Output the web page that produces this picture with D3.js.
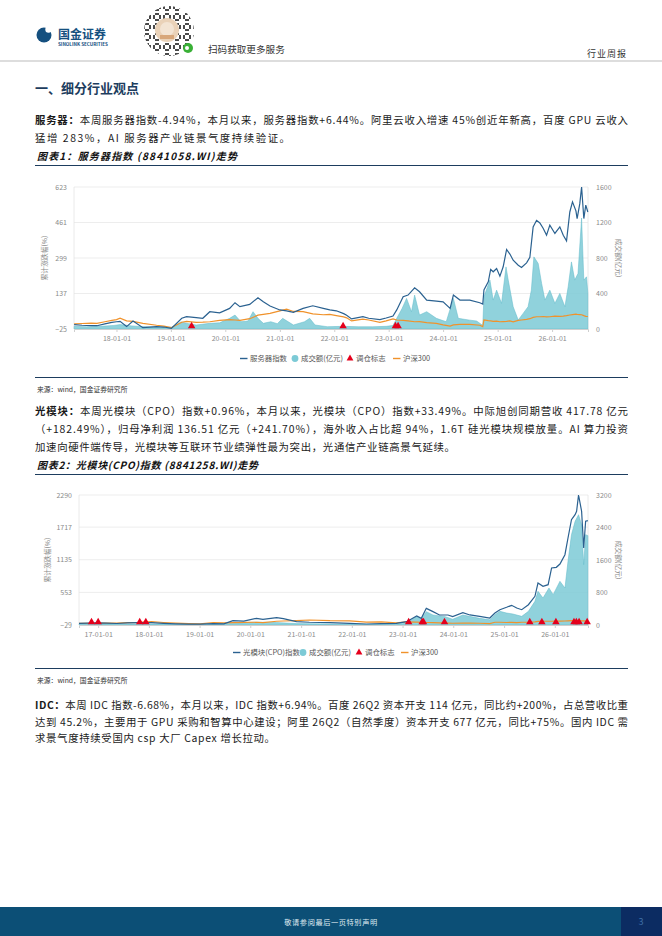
<!DOCTYPE html>
<html>
<head>
<meta charset="utf-8">
<style>
  html, body { margin: 0; padding: 0; background: #fff; }
  svg { display: block; }
  text { font-family: "Noto Sans CJK SC", "Noto Sans", sans-serif; }
</style>
</head>
<body>
<svg id="page" width="662" height="936"></svg>
<script src="https://d3js.org/d3.v7.min.js"></script>
<script>
// ---- 图表1: 服务器指数 (8841058.WI) ----
const srvDates = [
  '2017-03-23','2017-05-15','2017-07-15','2017-08-23','2017-10-15','2017-12-01','2018-01-01','2018-01-25','2018-03-10','2018-04-22',
  '2018-06-27','2018-09-27','2018-11-15','2019-01-04','2019-03-15','2019-04-16','2019-06-20','2019-08-03','2019-09-19','2019-11-24',
  '2020-01-30','2020-03-06','2020-04-08','2020-06-13','2020-08-07','2020-09-12','2020-10-27','2021-01-01','2021-02-15','2021-04-02',
  '2021-06-06','2021-08-10','2021-10-19','2021-12-02','2022-01-15','2022-03-05','2022-03-25','2022-04-27','2022-07-12','2022-08-20',
  '2022-11-03','2022-12-15','2023-01-30','2023-02-24','2023-04-08','2023-05-11','2023-06-24','2023-07-27','2023-09-13','2023-11-17',
  '2024-01-01','2024-02-17','2024-03-10','2024-04-23','2024-06-28','2024-09-03','2024-09-23','2024-10-01','2024-10-30','2024-11-15',
  '2024-12-02','2024-12-25','2025-01-16','2025-02-07','2025-03-02','2025-03-24','2025-04-15','2025-05-19','2025-06-10','2025-07-14',
  '2025-08-05','2025-08-27','2025-09-19','2025-10-11','2025-11-03','2025-11-25','2025-12-17','2026-01-20','2026-02-22','2026-03-17',
  '2026-04-08','2026-04-30','2026-05-18','2026-06-10','2026-06-18','2026-07-06','2026-07-18','2026-08-02','2026-08-15','2026-08-29'
];
const srvIndex = [
  -5, -8, -10, -10, -2, 5, 8, 10, -14, 11,
  -19, -14, -16, -22, 24, 31, 27, 24, 54, 49,
  69, 95, 77, 87, 118, 99, 80, 62, 58, 51,
  69, 81, 69, 62, 58, 45, 38, 21, 31, 24,
  18, 25, 34, 62, 122, 130, 163, 145, 107, 102,
  99, 69, 130, 107, 107, 95, 89, 153, 190, 247,
  236, 251, 216, 259, 338, 317, 289, 266, 256, 277,
  302, 441, 471, 459, 434, 403, 449, 411, 441, 403,
  377, 509, 555, 514, 479, 547, 623, 479, 540, 509
];
const srvHs300 = [
  -2, 0, 2, 1, 8, 14, 18, 24, 12, 10,
  1, -8, -12, -19, 6, 10, 5, 6, 8, 14,
  18, 16, 14, 22, 38, 42, 46, 58, 66, 55,
  54, 44, 40, 42, 36, 30, 26, 12, 20, 16,
  5, 12, 21, 16, 14, 12, 8, 9, 4, 1,
  -6, -12, -6, -4, -4, -8, -14, 16, 13, 12,
  10, 11, 8, 9, 10, 12, 8, 14, 16, 19,
  22, 28, 31, 31, 32, 30, 31, 34, 33, 34,
  36, 39, 41, 43, 42, 41, 40, 36, 33, 32
];
const srvVolDates = [
  '2017-03-23','2017-06-15','2017-09-15','2017-12-15','2018-01-25','2018-04-15','2018-07-15','2018-10-15','2019-01-04','2019-03-10',
  '2019-05-01','2019-06-20','2019-09-19','2019-11-24','2020-01-30','2020-03-06','2020-04-15','2020-06-01','2020-07-05','2020-08-07',
  '2020-09-12','2020-11-01','2020-12-15','2021-01-20','2021-04-02','2021-06-15','2021-07-20','2021-08-25','2021-11-15','2022-03-05',
  '2022-06-15','2022-09-15','2022-12-15','2023-01-30','2023-02-24','2023-04-01','2023-05-01','2023-06-03','2023-06-24','2023-07-27',
  '2023-09-13','2023-11-17','2024-01-22','2024-03-10','2024-04-12','2024-06-28','2024-08-13','2024-09-23','2024-10-01','2024-11-10',
  '2024-12-02','2024-12-25','2025-01-27','2025-02-26','2025-03-13','2025-04-15','2025-05-19','2025-06-21','2025-07-24','2025-08-15',
  '2025-09-01','2025-09-30','2025-10-23','2025-11-14','2025-12-17','2026-01-20','2026-02-22','2026-03-28','2026-04-19','2026-05-11',
  '2026-06-02','2026-06-24','2026-07-18','2026-08-02','2026-08-20','2026-08-29'
];
const srvVolume = [
  30, 25, 30, 40, 50, 35, 25, 20, 20, 80,
  60, 45, 64, 70, 120, 157, 82, 90, 195, 120,
  64, 82, 60, 120, 45, 82, 120, 45, 26, 30,
  25, 25, 30, 40, 120, 232, 345, 195, 382, 157,
  195, 120, 82, 345, 120, 100, 90, 40, 363, 551,
  326, 438, 289, 700, 551, 251, 101, 176, 251, 438,
  813, 738, 513, 326, 438, 289, 401, 251, 476, 756,
  551, 626, 1250, 551, 588, 404
];
const srvMarks = ['2019-05-20', '2022-03-01', '2023-02-15', '2023-03-05'];
const srvLeftTicks = [-25, 137, 299, 461, 623];
const srvRightTicks = [0, 400, 800, 1200, 1600];
const srvYears = ['2018-01-01','2019-01-01','2020-01-01','2021-01-01','2022-01-01','2023-01-01','2024-01-01','2025-01-01','2026-01-01'];

// ---- 图表2: 光模块(CPO)指数 (8841258.WI) ----
const cpoDates = [
  '2016-08-16','2016-10-15','2016-12-20','2017-03-01','2017-05-15','2017-08-01','2017-10-20','2018-01-20','2018-04-15','2018-07-15',
  '2018-10-15','2019-01-05','2019-04-10','2019-06-25','2019-08-29','2019-11-15','2020-02-14','2020-04-01','2020-07-09','2020-08-26',
  '2020-11-28','2021-03-01','2021-07-28','2021-12-17','2022-04-16','2022-08-01','2022-11-17','2023-01-30','2023-04-13','2023-05-16',
  '2023-06-21','2023-08-08','2023-09-24','2023-11-24','2023-12-28','2024-03-10','2024-04-30','2024-07-09','2024-09-20','2024-10-27',
  '2024-12-02','2025-01-19','2025-02-24','2025-04-02','2025-05-08','2025-06-25','2025-08-11','2025-09-02','2025-10-08','2025-11-14',
  '2025-12-09','2026-01-12','2026-02-07','2026-03-15','2026-04-06','2026-05-01','2026-05-27','2026-06-07','2026-06-21','2026-07-13',
  '2026-07-28','2026-08-11','2026-08-27'
];
const cpoIndex = [
  0, 6, 10, 4, -2, 8, 14, 12, 0, -8,
  -12, -15, -6, -10, 48, 40, 90, 72, 102, 84,
  30, 20, 13, 1, -11, -4, 1, 30, 132, 90,
  268, 209, 149, 149, 120, 191, 150, 126, 96, 185,
  244, 287, 322, 274, 244, 333, 483, 720, 661, 690,
  988, 1000, 1059, 1225, 1523, 1850, 1939, 2000, 2290, 2000,
  1345, 1821, 1832
];
const cpoHs300 = [
  0, 2, 3, 5, 4, 12, 18, 30, 16, 6,
  -3, -8, 16, 10, 12, 17, 20, 14, 38, 42,
  50, 60, 48, 46, 22, 26, 10, 26, 22, 18,
  16, 14, 10, 6, 2, 4, 6, 2, -4, 20,
  20, 16, 18, 14, 20, 22, 28, 34, 38, 38,
  38, 42, 40, 42, 45, 48, 50, 50, 48, 46,
  44, 40, 40
];
const cpoVolDates = [
  '2016-08-16','2017-01-15','2017-06-15','2017-11-15','2018-06-15','2019-01-05','2019-08-29','2020-02-14','2020-07-09','2020-11-28',
  '2021-07-28','2022-04-16','2022-11-17','2023-01-30','2023-04-13','2023-05-16','2023-06-21','2023-08-08','2023-11-05','2023-12-28',
  '2024-03-10','2024-07-09','2024-09-20','2024-10-27','2024-12-02','2025-01-19','2025-03-05','2025-05-08','2025-06-25','2025-08-11',
  '2025-09-02','2025-10-08','2025-11-20','2025-12-20','2026-02-07','2026-03-15','2026-04-06','2026-05-01','2026-05-27','2026-06-21',
  '2026-07-13','2026-07-28','2026-08-11','2026-08-27'
];
const cpoVolume = [
  15, 25, 20, 30, 18, 15, 45, 70, 60, 35,
  25, 15, 20, 57, 205, 150, 328, 246, 205, 140,
  246, 164, 130, 254, 336, 295, 271, 213, 336, 583,
  829, 664, 911, 747, 1075, 911, 1567, 2223, 2551, 2715,
  2469, 1485, 2223, 2200
];
const cpoMarks = ['2016-11-14','2017-01-01','2017-10-27','2017-12-10','2023-02-14','2023-05-22','2023-06-01','2023-10-30',
  '2025-07-05','2025-09-30','2026-01-09','2026-05-19','2026-06-05','2026-06-25','2026-08-22'];
const cpoLeftTicks = [-29, 553, 1135, 1717, 2290];
const cpoRightTicks = [0, 800, 1600, 2400, 3200];
const cpoYears = ['2017-01-01','2018-01-01','2019-01-01','2020-01-01','2021-01-01','2022-01-01','2023-01-01','2024-01-01','2025-01-01','2026-01-01'];

const svg = d3.select('#page');
const parse = d3.timeParse('%Y-%m-%d');
const NAVY = '#1d3d5e';
const C_IDX = '#2a6190', C_VOL = '#7ccad6', C_HS = '#f0922b', C_MK = '#e5001c';

// ---- 页眉 ----
svg.append('line').attr('x1', 0).attr('x2', 662).attr('y1', 61).attr('y2', 61)
  .attr('stroke', '#a9a9a9').attr('stroke-width', 0.8);
const logo = svg.append('g');
logo.append('circle').attr('cx', 44).attr('cy', 35).attr('r', 7.5).attr('fill', '#15507f');
logo.append('circle').attr('cx', 48.5).attr('cy', 29.5).attr('r', 3.2).attr('fill', '#fff');
logo.append('text').attr('x', 58).attr('y', 39).attr('font-size', 12).attr('font-weight', 700)
  .attr('fill', '#15507f').text('国金证券');
logo.append('text').attr('x', 58).attr('y', 46).attr('font-size', 4.6).attr('font-weight', 700)
  .attr('fill', '#15507f').attr('font-family', 'Arial, "Liberation Sans", sans-serif').text('SINOLINK SECURITIES');

// 二维码装饰 (圆形)
svg.append('clipPath').attr('id', 'qrclip').append('circle').attr('cx', 169).attr('cy', 31).attr('r', 25);
const qr = svg.append('g');
const cells = [];
for (let i = 0; i < 26; i++) for (let j = 0; j < 26; j++) {
  const cx = 143 + i * 2 + 1, cy = 5 + j * 2 + 1;
  if (((i * 7 + j * 11 + i * j) % 5) < 2) cells.push([cx, cy]);
}
qr.append('g').attr('clip-path', 'url(#qrclip)').selectAll('rect').data(cells).join('rect')
  .attr('x', d => d[0] - 1).attr('y', d => d[1] - 1).attr('width', 2).attr('height', 2).attr('fill', '#4a4a4a');
qr.append('circle').attr('cx', 167).attr('cy', 30).attr('r', 12).attr('fill', '#ead2b8');
qr.append('circle').attr('cx', 167).attr('cy', 29).attr('r', 7).attr('fill', '#f3e4d3');
qr.append('rect').attr('x', 160).attr('y', 35).attr('width', 14).attr('height', 4).attr('fill', '#d8a77a');
qr.append('circle').attr('cx', 188).attr('cy', 48).attr('r', 5).attr('fill', '#39b036');
qr.append('circle').attr('cx', 187).attr('cy', 48).attr('r', 2).attr('fill', '#fff');
svg.append('text').attr('x', 208).attr('y', 53).attr('font-size', 9.6).attr('fill', '#333').text('扫码获取更多服务');
svg.append('text').attr('x', 627).attr('y', 57).attr('text-anchor', 'end').attr('font-size', 9).attr('fill', '#333')
  .attr('letter-spacing', 1).text('行业周报');

// ---- 正文 ----
svg.append('text').attr('x', 35).attr('y', 93).attr('font-size', 13).attr('font-weight', 700)
  .attr('fill', NAVY).text('一、细分行业观点');

function line(y, parts, width) {
  const t = svg.append('text').attr('x', 35).attr('y', y).attr('font-size', 10.4).attr('fill', '#1a1a1a');
  parts.forEach(p => t.append('tspan').attr('font-weight', p[1] ? 700 : 400).text(p[0]));
  if (width) t.attr('textLength', width).attr('lengthAdjust', 'spacing');
}
function caption(y, s, width) {
  svg.append('text').attr('x', 37).attr('y', y).attr('font-size', 10).attr('font-weight', 700)
    .attr('font-style', 'italic').attr('fill', '#111').attr('textLength', width).attr('lengthAdjust', 'spacing').text(s);
}
function rule(y) {
  svg.append('line').attr('x1', 35).attr('x2', 628).attr('y1', y).attr('y2', y).attr('stroke', NAVY).attr('stroke-width', 1.2);
}
function source(y) {
  svg.append('text').attr('x', 37).attr('y', y).attr('font-size', 6.8).attr('fill', '#333').text('来源：wind，国金证券研究所');
}

line(124, [['服务器：', 1], ['本周服务器指数-4.94%，本月以来，服务器指数+6.44%。阿里云收入增速 45%创近年新高，百度 GPU 云收入']], 593);
line(142, [['猛增 283%，AI 服务器产业链景气度持续验证。']], 255);
caption(160, '图表1：服务器指数 (8841058.WI)走势', 200);
rule(165.5);
rule(377.5);
source(391.5);

line(415, [['光模块：', 1], ['本周光模块（CPO）指数+0.96%，本月以来，光模块（CPO）指数+33.49%。中际旭创同期营收 417.78 亿元']], 593);
line(433, [['（+182.49%），归母净利润 136.51 亿元（+241.70%），海外收入占比超 94%，1.6T 硅光模块规模放量。AI 算力投资']], 593);
line(451, [['加速向硬件端传导，光模块等互联环节业绩弹性最为突出，光通信产业链高景气延续。']], 420);
caption(469, '图表2：光模块(CPO)指数 (8841258.WI)走势', 221);
rule(474.5);
rule(668.5);
source(682.5);

line(709, [['IDC：', 1], ['本周 IDC 指数-6.68%，本月以来，IDC 指数+6.94%。百度 26Q2 资本开支 114 亿元，同比约+200%，占总营收比重']], 593);
line(726, [['达到 45.2%，主要用于 GPU 采购和智算中心建设；阿里 26Q2（自然季度）资本开支 677 亿元，同比+75%。国内 IDC 需']], 593);
line(742, [['求景气度持续受国内 csp 大厂 Capex 增长拉动。']], 240);

// ---- 图表 ----
function drawChart(c) {
  const g = svg.append('g');
  const x = d3.scaleTime().domain(c.xDomain.map(parse)).range([c.left, c.right]);
  const yL = d3.scaleLinear().domain(d3.extent(c.leftTicks)).range([c.bottom, c.top]);
  const yR = d3.scaleLinear().domain(d3.extent(c.rightTicks)).range([c.bottom, c.top]);

  g.append('g').selectAll('line').data(c.leftTicks.slice(1)).join('line')
    .attr('x1', c.left).attr('x2', c.right).attr('y1', d => yL(d)).attr('y2', d => yL(d))
    .attr('stroke', '#e8e8e8').attr('stroke-width', 0.8);
  [c.left, c.right].forEach(px => g.append('line').attr('x1', px).attr('x2', px)
    .attr('y1', c.top).attr('y2', c.bottom).attr('stroke', '#e4e4e4').attr('stroke-width', 0.8));

  const vol = c.volDates.map((d, i) => ({ date: parse(d), v: c.volume[i] }));
  g.append('path').datum(vol)
    .attr('d', d3.area().x(d => x(d.date)).y0(c.bottom).y1(d => yR(d.v)))
    .attr('fill', C_VOL).attr('fill-opacity', 0.85).attr('stroke', '#5fb9c8').attr('stroke-width', 0.5);

  const rows = c.dates.map((d, i) => ({ date: parse(d), idx: c.index[i], hs: c.hs300[i] }));
  g.append('path').datum(rows)
    .attr('d', d3.line().x(d => x(d.date)).y(d => yL(d.hs)))
    .attr('fill', 'none').attr('stroke', C_HS).attr('stroke-width', 1.2);
  g.append('path').datum(rows)
    .attr('d', d3.line().x(d => x(d.date)).y(d => yL(d.idx)))
    .attr('fill', 'none').attr('stroke', C_IDX).attr('stroke-width', 1.2);

  g.append('g').selectAll('path').data(c.marks).join('path')
    .attr('d', d3.symbol(d3.symbolTriangle, 24))
    .attr('transform', d => `translate(${x(parse(d))},${c.bottom - 3})`)
    .attr('fill', C_MK);

  const ax = g.append('g').attr('transform', `translate(0,${c.bottom})`)
    .call(d3.axisBottom(x).tickValues(c.xTicks.map(parse)).tickFormat(d3.timeFormat('%y-%m-%d')).tickSize(3).tickPadding(4));
  ax.select('.domain').attr('stroke', '#cfcfcf');
  ax.selectAll('.tick line').attr('stroke', '#cfcfcf');
  ax.selectAll('text').attr('fill', '#8a8a8a').attr('font-size', 7);

  const al = g.append('g').attr('transform', `translate(${c.left},0)`)
    .call(d3.axisLeft(yL).tickValues(c.leftTicks).tickFormat(d3.format('d')).tickSize(0).tickPadding(7));
  al.select('.domain').remove();
  al.selectAll('text').attr('fill', '#8a8a8a').attr('font-size', 7);

  const ar = g.append('g').attr('transform', `translate(${c.right},0)`)
    .call(d3.axisRight(yR).tickValues(c.rightTicks).tickFormat(d3.format('d')).tickSize(0).tickPadding(8));
  ar.select('.domain').remove();
  ar.selectAll('text').attr('fill', '#8a8a8a').attr('font-size', 7);

  const mid = (c.top + c.bottom) / 2;
  g.append('text').attr('transform', `translate(${c.titleL},${mid}) rotate(-90)`).attr('text-anchor', 'middle')
    .attr('font-size', 6.8).attr('fill', '#888').text('累计涨跌幅(%)');
  g.append('text').attr('transform', `translate(${c.titleR},${mid}) rotate(90)`).attr('text-anchor', 'middle')
    .attr('font-size', 6.8).attr('fill', '#888').text('成交额(亿元)');

  const L = c.legend, lg = g.append('g').attr('font-size', 7.4).attr('fill', '#555');
  lg.append('line').attr('x1', L.x[0]).attr('x2', L.x[0] + 7.5).attr('y1', L.y).attr('y2', L.y)
    .attr('stroke', C_IDX).attr('stroke-width', 1.4);
  lg.append('text').attr('x', L.x[0] + 10).attr('y', L.y + 2.6).text(c.name);
  lg.append('circle').attr('cx', L.x[1]).attr('cy', L.y).attr('r', 3.4).attr('fill', C_VOL);
  lg.append('text').attr('x', L.x[1] + 6).attr('y', L.y + 2.6).text('成交额(亿元)');
  lg.append('path').attr('d', d3.symbol(d3.symbolTriangle, 20)).attr('transform', `translate(${L.x[2]},${L.y})`).attr('fill', C_MK);
  lg.append('text').attr('x', L.x[2] + 6).attr('y', L.y + 2.6).text('调仓标志');
  lg.append('line').attr('x1', L.x[3]).attr('x2', L.x[3] + 7.5).attr('y1', L.y).attr('y2', L.y)
    .attr('stroke', C_HS).attr('stroke-width', 1.4);
  lg.append('text').attr('x', L.x[3] + 10).attr('y', L.y + 2.6).text('沪深300');
}

drawChart({
  name: '服务器指数',
  left: 74, right: 588, top: 187, bottom: 329,
  xDomain: ['2017-03-22', '2026-08-30'], xTicks: srvYears,
  leftTicks: srvLeftTicks, rightTicks: srvRightTicks,
  dates: srvDates, index: srvIndex, hs300: srvHs300,
  volDates: srvVolDates, volume: srvVolume, marks: srvMarks,
  titleL: 47, titleR: 616,
  legend: { y: 358.5, x: [240, 295, 350, 393] }
});
drawChart({
  name: '光模块(CPO)指数',
  left: 79, right: 588, top: 495, bottom: 625,
  xDomain: ['2016-08-16', '2026-08-28'], xTicks: cpoYears,
  leftTicks: cpoLeftTicks, rightTicks: cpoRightTicks,
  dates: cpoDates, index: cpoIndex, hs300: cpoHs300,
  volDates: cpoVolDates, volume: cpoVolume, marks: cpoMarks,
  titleL: 50, titleR: 616,
  legend: { y: 652.5, x: [233, 303, 359, 401] }
});

// ---- 页脚 ----
svg.append('rect').attr('x', 0).attr('y', 907).attr('width', 662).attr('height', 29).attr('fill', '#0c4f76');
svg.append('rect').attr('x', 621).attr('y', 907).attr('width', 41).attr('height', 29).attr('fill', '#0c2c62');
svg.append('text').attr('x', 331).attr('y', 924.5).attr('text-anchor', 'middle').attr('font-size', 7.2)
  .attr('fill', '#dfe9f0').attr('letter-spacing', 0.6).text('敬请参阅最后一页特别声明');
svg.append('text').attr('x', 641).attr('y', 925).attr('text-anchor', 'middle').attr('font-size', 9)
  .attr('fill', '#3f6fa6').text('3');
</script>
</body>
</html>
